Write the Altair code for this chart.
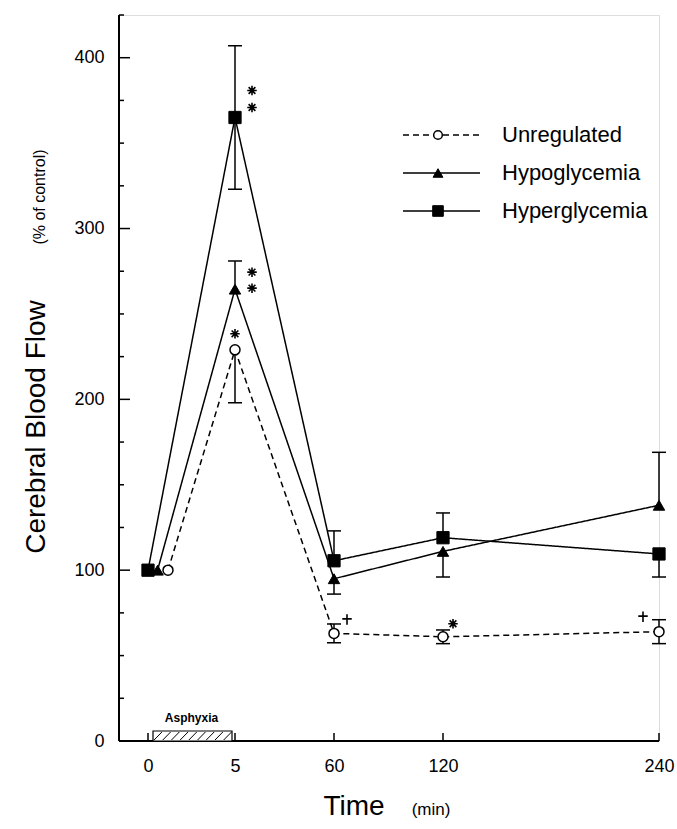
import altair as alt
import pandas as pd

# ---------------- data ----------------
times = [0, 5, 60, 120, 240]
series_names = ["Unregulated", "Hypoglycemia", "Hyperglycemia"]

unregulated_mean = [100, 229, 63, 61, 64]
unregulated_sem = [0, 31, 5.5, 4, 7]
unregulated_err_dir = ["none", "down", "both", "both", "both"]

hypoglycemia_mean = [100, 264.5, 95, 111, 138]
hypoglycemia_sem = [0, 16.5, 9, 15, 31]
hypoglycemia_err_dir = ["none", "up", "down", "down", "up"]

hyperglycemia_mean = [100, 365, 105.5, 119, 109.5]
hyperglycemia_sem = [0, 42, 17.5, 14.5, 13.5]
hyperglycemia_err_dir = ["none", "both", "up", "up", "down"]

x_tick_values = [0, 5, 60, 120, 240]
x_tick_labels = ["0", "5", "60", "120", "240"]
y_label_values = [0, 100, 200, 300, 400]
y_major_ticks = [100, 200, 300, 400]
y_minor_ticks = [25, 50, 75, 125, 150, 175, 225, 250, 275, 325, 350, 375, 425]
y_max = 425

asphyxia_start = [0]
asphyxia_end = [5]

sig_series = ["Hyperglycemia", "Hyperglycemia", "Hypoglycemia", "Hypoglycemia",
              "Unregulated", "Unregulated", "Unregulated", "Unregulated"]
sig_times = [5, 5, 5, 5, 5, 60, 120, 240]
sig_symbols = ["star", "star", "star", "star", "star", "plus", "star", "plus"]

# ---------------- styling ----------------
PLOT_W, PLOT_H = 540, 726
zero_offset_min = {"Unregulated": 1.15, "Hypoglycemia": 0.55, "Hyperglycemia": 0.0}
sig_dx = [17, 17, 17, 17, 0, 13, 10, -16]
sig_dy = [-27, -10, -17, -1, -16, -14, -13, -15]
FONT = "Liberation Sans"

means = {"Unregulated": unregulated_mean, "Hypoglycemia": hypoglycemia_mean,
         "Hyperglycemia": hyperglycemia_mean}
sems = {"Unregulated": unregulated_sem, "Hypoglycemia": hypoglycemia_sem,
        "Hyperglycemia": hyperglycemia_sem}
dirs = {"Unregulated": unregulated_err_dir, "Hypoglycemia": hypoglycemia_err_dir,
        "Hyperglycemia": hyperglycemia_err_dir}

rows = []
for s in series_names:
    for i, t in enumerate(times):
        m, e, d = means[s][i], sems[s][i], dirs[s][i]
        rows.append({
            "series": s, "time": t,
            "td": t + (zero_offset_min[s] if t == 0 else 0),
            "value": m,
            "lo": m - e if d in ("down", "both") else m,
            "hi": m + e if d in ("up", "both") else m,
            "dir": d,
        })
df = pd.DataFrame(rows)

cap_rows = []
for r in rows:
    if r["dir"] in ("up", "both"):
        cap_rows.append({"series": r["series"], "td": r["td"], "cap": r["hi"]})
    if r["dir"] in ("down", "both"):
        cap_rows.append({"series": r["series"], "td": r["td"], "cap": r["lo"]})
caps_df = pd.DataFrame(cap_rows)

label_expr = "{" + ",".join(f"'{v}':'{l}'" for v, l in zip(x_tick_values, x_tick_labels)) + "}[datum.value]"

XS = alt.Scale(domain=x_tick_values, range=[29, 116, 215, 324, 540], nice=False, zero=False)
YS = alt.Scale(domain=[0, y_max], nice=False, zero=False)
XA = alt.Axis(values=x_tick_values, labelExpr=label_expr, ticks=False, tickSize=0, domain=False,
              grid=False, title=None, labelFontSize=18, labelPadding=16, labelFlush=False,
              labelOverlap=False, labelColor="black", labelFont=FONT)
YA = alt.Axis(values=y_label_values, ticks=False, tickSize=0, domain=False, grid=False, title=None,
              labelFontSize=18, labelPadding=15, labelColor="black", labelFont=FONT)


def X(field):
    return alt.X(field, type="quantitative", scale=XS, axis=XA)


def Y(field):
    return alt.Y(field, type="quantitative", scale=YS, axis=YA)


dummy = pd.DataFrame({"d": [0]})
layers = []

# axes lines
layers.append(alt.Chart(dummy).mark_rule(color="black", strokeWidth=2).encode(
    x=alt.value(0), x2=alt.value(PLOT_W), y=alt.value(PLOT_H)))
layers.append(alt.Chart(dummy).mark_rule(color="black", strokeWidth=2).encode(
    x=alt.value(0), y=alt.value(0), y2=alt.value(PLOT_H)))

# inward ticks
layers.append(alt.Chart(pd.DataFrame({"v": y_major_ticks})).mark_rule(color="black", strokeWidth=1.5).encode(
    y=Y("v"), x=alt.value(0), x2=alt.value(11)))
layers.append(alt.Chart(pd.DataFrame({"v": y_minor_ticks})).mark_rule(color="black", strokeWidth=1.5).encode(
    y=Y("v"), x=alt.value(0), x2=alt.value(5)))
layers.append(alt.Chart(pd.DataFrame({"t": x_tick_values})).mark_rule(color="black", strokeWidth=1.5).encode(
    x=X("t"), y=alt.value(PLOT_H), y2=alt.value(PLOT_H - 8)))

# asphyxia box + hatch + label
asph = pd.DataFrame({"start": asphyxia_start, "end": asphyxia_end})
layers.append(alt.Chart(asph).mark_rect(fill="white", stroke="black", strokeWidth=1.2,
                                         xOffset=5, x2Offset=-3).encode(
    x=X("start"), x2="end", y=alt.value(PLOT_H), y2=alt.value(PLOT_H - 10)))
layers.append(alt.Chart(alt.sequence(0.35, 4.4, 0.5, as_="t")).transform_calculate(
    t2="datum.t + 0.45").mark_rule(color="black", strokeWidth=1).encode(
    x=X("t:Q"), x2="t2:Q", y=alt.value(PLOT_H - 1), y2=alt.value(PLOT_H - 9)))
layers.append(alt.Chart(asph).transform_calculate(mid="(datum.start + datum.end) / 2").mark_text(
    text="Asphyxia", fontSize=12, fontWeight="bold", font=FONT, color="black", baseline="middle").encode(
    x=X("mid:Q"), y=alt.value(PLOT_H - 23)))

# lines
layers.append(alt.Chart(df).mark_line(color="black", strokeWidth=1.5).encode(
    x=X("td"), y=Y("value"), detail="series:N", order="time:Q",
    strokeDash=alt.StrokeDash("series:N", scale=alt.Scale(domain=series_names,
                                                          range=[[6, 4], [1, 0], [1, 0]]), legend=None)))

# error bars
err = df[df["lo"] != df["hi"]]
layers.append(alt.Chart(err).mark_rule(color="black", strokeWidth=1.5).encode(
    x=X("td"), y=Y("lo"), y2="hi"))
layers.append(alt.Chart(caps_df).mark_rule(color="black", strokeWidth=1.5, xOffset=-7, x2Offset=7).encode(
    x=X("td"), x2="td", y=Y("cap")))

# markers
marker_style = {
    "Unregulated": dict(shape="circle", filled=True, fill="white", stroke="black", strokeWidth=1.5, size=100),
    "Hypoglycemia": dict(shape="triangle-up", filled=True, fill="black", stroke="black", strokeWidth=1, size=130),
    "Hyperglycemia": dict(shape="square", filled=True, fill="black", stroke="black", strokeWidth=1, size=150),
}
for s in series_names:
    layers.append(alt.Chart(df[df["series"] == s]).mark_point(opacity=1, **marker_style[s]).encode(
        x=X("td"), y=Y("value")))

# significance marks
STAR = "M0,-1L0,1M-1,0L1,0M-0.71,-0.71L0.71,0.71M-0.71,0.71L0.71,-0.71"
PLUS = "M0,-1L0,1M-0.9,-0.1L0.9,-0.1"
for i in range(len(sig_series)):
    sub = df[(df["series"] == sig_series[i]) & (df["time"] == sig_times[i])]
    if sig_symbols[i] == "star":
        layers.append(alt.Chart(sub).mark_point(shape=STAR, filled=False, stroke="black", strokeWidth=1.6,
                                                size=90, opacity=1, xOffset=sig_dx[i], yOffset=sig_dy[i]).encode(
            x=X("td"), y=Y("value")))
        layers.append(alt.Chart(sub).mark_point(shape="circle", filled=True, fill="black", size=14,
                                                opacity=1, xOffset=sig_dx[i], yOffset=sig_dy[i]).encode(
            x=X("td"), y=Y("value")))
    else:
        layers.append(alt.Chart(sub).mark_point(shape=PLUS, filled=False, stroke="black", strokeWidth=1.6,
                                                size=110, opacity=1, xOffset=sig_dx[i], yOffset=sig_dy[i]).encode(
            x=X("td"), y=Y("value")))

# legend (drawn)
leg_y0, leg_step = 120, 38
for k, s in enumerate(series_names):
    ly = leg_y0 + k * leg_step
    dash = [6, 4] if s == "Unregulated" else [1, 0]
    layers.append(alt.Chart(dummy).mark_rule(color="black", strokeWidth=1.5, strokeDash=dash).encode(
        x=alt.value(284), x2=alt.value(361), y=alt.value(ly)))
    st = dict(marker_style[s])
    st["size"] = st["size"] * 0.75
    layers.append(alt.Chart(dummy).mark_point(opacity=1, **st).encode(
        x=alt.value(319), y=alt.value(ly)))
    layers.append(alt.Chart(dummy).mark_text(align="left", baseline="middle", fontSize=22, font=FONT,
                                             color="black").encode(
        x=alt.value(383), y=alt.value(ly), text=alt.value(s)))

# axis titles (drawn as text)
layers.append(alt.Chart(dummy).mark_text(angle=270, align="center", baseline="alphabetic", fontSize=28,
                                         font=FONT, color="black").encode(
    x=alt.value(-74), y=alt.value(412), text=alt.value("Cerebral Blood Flow")))
layers.append(alt.Chart(dummy).mark_text(angle=270, align="center", baseline="alphabetic", fontSize=16,
                                         font=FONT, color="black").encode(
    x=alt.value(-74), y=alt.value(182), text=alt.value("(% of control)")))
layers.append(alt.Chart(dummy).mark_text(align="center", baseline="alphabetic", fontSize=28,
                                         font=FONT, color="black").encode(
    x=alt.value(235), y=alt.value(800), text=alt.value("Time")))
layers.append(alt.Chart(dummy).mark_text(align="center", baseline="alphabetic", fontSize=17,
                                         font=FONT, color="black").encode(
    x=alt.value(312), y=alt.value(800), text=alt.value("(min)")))

chart = alt.layer(*layers).properties(
    width=PLOT_W, height=PLOT_H,
    autosize=alt.AutoSizeParams(type="none"),
    padding={"left": 119, "top": 15, "right": 18, "bottom": 88},
    background="white",
).configure_view(stroke=None).configure(font=FONT)

chart.save("out.html", embed_options={"renderer": "svg", "actions": False})
